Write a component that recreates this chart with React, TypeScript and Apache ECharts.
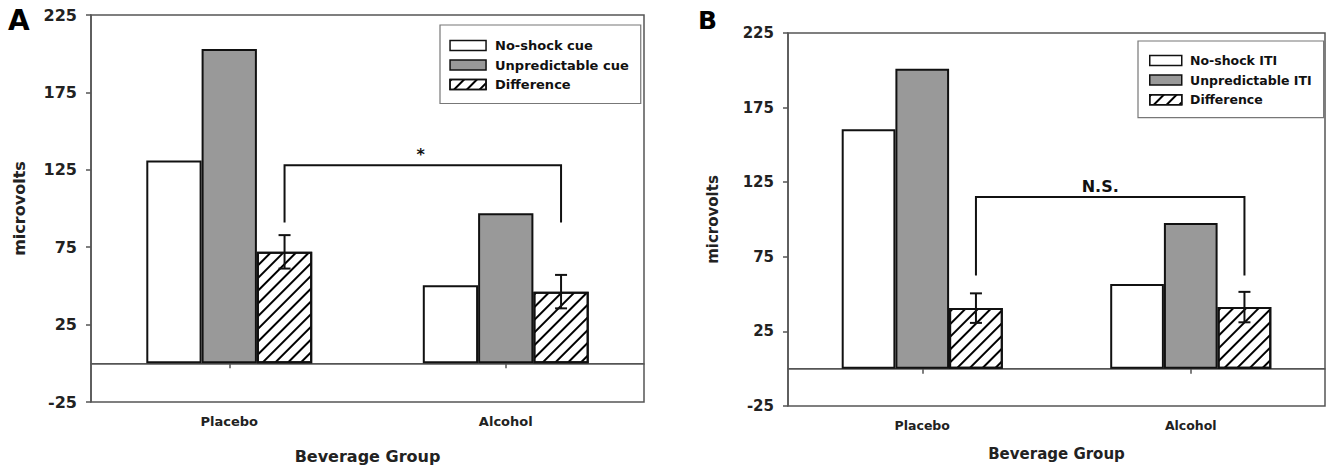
import React, { useEffect, useRef } from "react";
import * as echarts from "echarts";

const categories = ["Placebo", "Alcohol"];
const yTicks = [-25, 25, 75, 125, 175, 225];

// Panel A (cue)
const seriesNamesA = ["No-shock cue", "Unpredictable cue", "Difference"];
const noShockCue = [131, 50.5];
const unpredictableCue = [203, 97];
const differenceCue = [72, 46.3];
const differenceCueErr = [10.8, 10.8];
const bracketA = [128, 91]; // [bar height, drop end]
const bracketALabel = "*";

// Panel B (ITI)
const seriesNamesB = ["No-shock ITI", "Unpredictable ITI", "Difference"];
const noShockITI = [160.5, 56.7];
const unpredictableITI = [201, 97.6];
const differenceITI = [40.6, 41.3];
const differenceITIErr = [9.9, 10.2];
const bracketB = [115, 62.5];
const bracketBLabel = "N.S.";

const FONT = "'DejaVu Sans', 'Liberation Sans', Arial, sans-serif";
const AXIS_COLOR = "#555";
const INK = "#111";

const hatch = {
  symbol: "rect",
  symbolSize: 1,
  dashArrayX: [1, 0],
  dashArrayY: [2, 7],
  rotation: -Math.PI / 4,
  color: "#000",
  backgroundColor: "#fff",
};

function makeAxes(gridIndex: number, fs: number, nameGapX: number, nameGapY: number, labelFs: number) {
  const xAxis = {
    type: "category",
    gridIndex,
    data: categories,
    axisLine: { lineStyle: { color: AXIS_COLOR, width: 1.5 } },
    axisTick: { show: true, alignWithLabel: true, length: 5, lineStyle: { color: AXIS_COLOR, width: 1.5 } },
    axisLabel: { color: "#222", fontFamily: FONT, fontWeight: "bold", fontSize: labelFs, margin: 13 },
    name: "Beverage Group",
    nameLocation: "middle",
    nameGap: nameGapX,
    nameTextStyle: { color: "#222", fontFamily: FONT, fontWeight: "bold", fontSize: fs },
  };
  const yAxis = {
    type: "value",
    gridIndex,
    min: -25,
    max: 225,
    splitLine: { show: false },
    axisLine: { show: true, lineStyle: { color: AXIS_COLOR, width: 1.5 } },
    axisTick: { show: true, length: 5, customValues: yTicks, lineStyle: { color: AXIS_COLOR, width: 1.5 } },
    axisLabel: {
      customValues: yTicks,
      color: "#222",
      fontFamily: FONT,
      fontWeight: "bold",
      fontSize: fs,
      margin: 14,
    },
    name: "microvolts",
    nameLocation: "middle",
    nameGap: nameGapY,
    nameTextStyle: { color: "#222", fontFamily: FONT, fontWeight: "bold", fontSize: fs },
  };
  return { xAxis, yAxis };
}

function barSeries(name: string, data: number[], idx: number, kind: number, withZero: boolean) {
  const itemStyle: any = { borderColor: INK, borderWidth: 2 };
  if (kind === 0) itemStyle.color = "#fff";
  if (kind === 1) itemStyle.color = "#999";
  if (kind === 2) {
    itemStyle.color = "#fff";
    itemStyle.decal = hatch;
  }
  const s: any = {
    type: "bar",
    name,
    xAxisIndex: idx,
    yAxisIndex: idx,
    data,
    barGap: "0%",
    barCategoryGap: "40%",
    itemStyle,
    emphasis: { disabled: true },
  };
  if (withZero) {
    s.markLine = {
      silent: true,
      symbol: ["none", "none"],
      label: { show: false },
      lineStyle: { color: AXIS_COLOR, width: 1.2, type: "solid" },
      data: [{ yAxis: 0 }],
      z: 1,
    };
  }
  return s;
}

function errorSeries(idx: number, vals: number[], errs: number[]) {
  return {
    type: "custom",
    xAxisIndex: idx,
    yAxisIndex: idx,
    z: 5,
    silent: true,
    encode: { x: 0, y: 1 },
    data: vals.map((v, i) => [i, v, errs[i]]),
    renderItem: (params: any, api: any) => {
      const ci = api.value(0);
      const v = api.value(1);
      const e = api.value(2);
      const band = api.size([1, 0])[0];
      const x = api.coord([ci, v])[0] + band * 0.2;
      const yT = api.coord([ci, v + e])[1];
      const yB = api.coord([ci, v - e])[1];
      const cap = 6;
      const style = { stroke: INK, lineWidth: 2 };
      return {
        type: "group",
        children: [
          { type: "line", shape: { x1: x, y1: yT, x2: x, y2: yB }, style },
          { type: "line", shape: { x1: x - cap, y1: yT, x2: x + cap, y2: yT }, style },
          { type: "line", shape: { x1: x - cap, y1: yB, x2: x + cap, y2: yB }, style },
        ],
      };
    },
  };
}

function bracketSeries(idx: number, br: number[], label: string, fs: number, dx: number) {
  return {
    type: "custom",
    xAxisIndex: idx,
    yAxisIndex: idx,
    z: 6,
    silent: true,
    encode: { x: 0, y: 1 },
    data: [[0, br[0], br[1]]],
    renderItem: (params: any, api: any) => {
      const top = api.value(1);
      const drop = api.value(2);
      const band = api.size([1, 0])[0];
      const x0 = api.coord([0, top])[0] + band * 0.2;
      const x1 = api.coord([1, top])[0] + band * 0.2;
      const yT = api.coord([0, top])[1];
      const yD = api.coord([0, drop])[1];
      return {
        type: "group",
        children: [
          {
            type: "polyline",
            shape: { points: [[x0, yD], [x0, yT], [x1, yT], [x1, yD]] },
            style: { stroke: INK, lineWidth: 2, fill: null },
          },
          {
            type: "text",
            x: (x0 + x1) / 2 + dx,
            y: yT - 3,
            style: {
              text: label,
              fill: INK,
              fontFamily: FONT,
              fontWeight: "bold",
              fontSize: fs,
              align: "center",
              verticalAlign: "bottom",
            },
          },
        ],
      };
    },
  };
}

export default function App() {
  const ref = useRef<HTMLDivElement>(null);
  useEffect(() => {
    if (!ref.current) return;
    const chart = echarts.init(ref.current, null, { renderer: "svg" });
    const a = makeAxes(0, 16, 46, 64, 13);
    const b = makeAxes(1, 15, 40, 68, 12.5);
    const option: any = {
      animation: false,
      backgroundColor: "#fff",
      grid: [
        { left: 91, top: 15, width: 553, height: 388, show: true, borderColor: AXIS_COLOR, borderWidth: 1.5, containLabel: false },
        { left: 788, top: 33, width: 537, height: 373, show: true, borderColor: AXIS_COLOR, borderWidth: 1.5, containLabel: false },
      ],
      xAxis: [a.xAxis, b.xAxis],
      yAxis: [a.yAxis, b.yAxis],
      legend: [
        {
          data: seriesNamesA,
          orient: "vertical",
          left: 440,
          top: 25,
          icon: "rect",
          itemWidth: 36,
          itemHeight: 10,
          itemGap: 5.5,
          selectedMode: false,
          padding: [13.5, 12, 12, 9.3],
          borderColor: "#777",
          borderWidth: 1.2,
          backgroundColor: "#fff",
          itemStyle: { borderColor: INK, borderWidth: 1.5 },
          textStyle: { color: INK, fontFamily: FONT, fontWeight: "bold", fontSize: 13, lineHeight: 14, padding: [0, 0, 0, 4] },
        },
        {
          data: seriesNamesB,
          orient: "vertical",
          left: 1138,
          top: 41,
          icon: "rect",
          itemWidth: 32,
          itemHeight: 10,
          itemGap: 5.6,
          selectedMode: false,
          padding: [12.5, 12, 11, 11],
          borderColor: "#777",
          borderWidth: 1.2,
          backgroundColor: "#fff",
          itemStyle: { borderColor: INK, borderWidth: 1.5 },
          textStyle: { color: INK, fontFamily: FONT, fontWeight: "bold", fontSize: 12.5, lineHeight: 14, padding: [0, 0, 0, 3.3] },
        },
      ],
      graphic: [
        { type: "text", left: 8, top: 6, style: { text: "A", fill: "#000", fontFamily: FONT, fontWeight: "bold", fontSize: 28 } },
        { type: "text", left: 698, top: 8, style: { text: "B", fill: "#000", fontFamily: FONT, fontWeight: "bold", fontSize: 25 } },
      ],
      series: [
        barSeries(seriesNamesA[0], noShockCue, 0, 0, true),
        barSeries(seriesNamesA[1], unpredictableCue, 0, 1, false),
        barSeries(seriesNamesA[2], differenceCue, 0, 2, false),
        errorSeries(0, differenceCue, differenceCueErr),
        bracketSeries(0, bracketA, bracketALabel, 16, -2),
        barSeries(seriesNamesB[0], noShockITI, 1, 0, true),
        barSeries(seriesNamesB[1], unpredictableITI, 1, 1, false),
        barSeries(seriesNamesB[2], differenceITI, 1, 2, false),
        errorSeries(1, differenceITI, differenceITIErr),
        bracketSeries(1, bracketB, bracketBLabel, 16, -10),
      ],
    };
    chart.setOption(option);
    return () => chart.dispose();
  }, []);
  return (
    <div
      ref={ref}
      style={{ position: "fixed", left: 0, top: 0, width: 1327, height: 469, background: "#fff" }}
    />
  );
}
